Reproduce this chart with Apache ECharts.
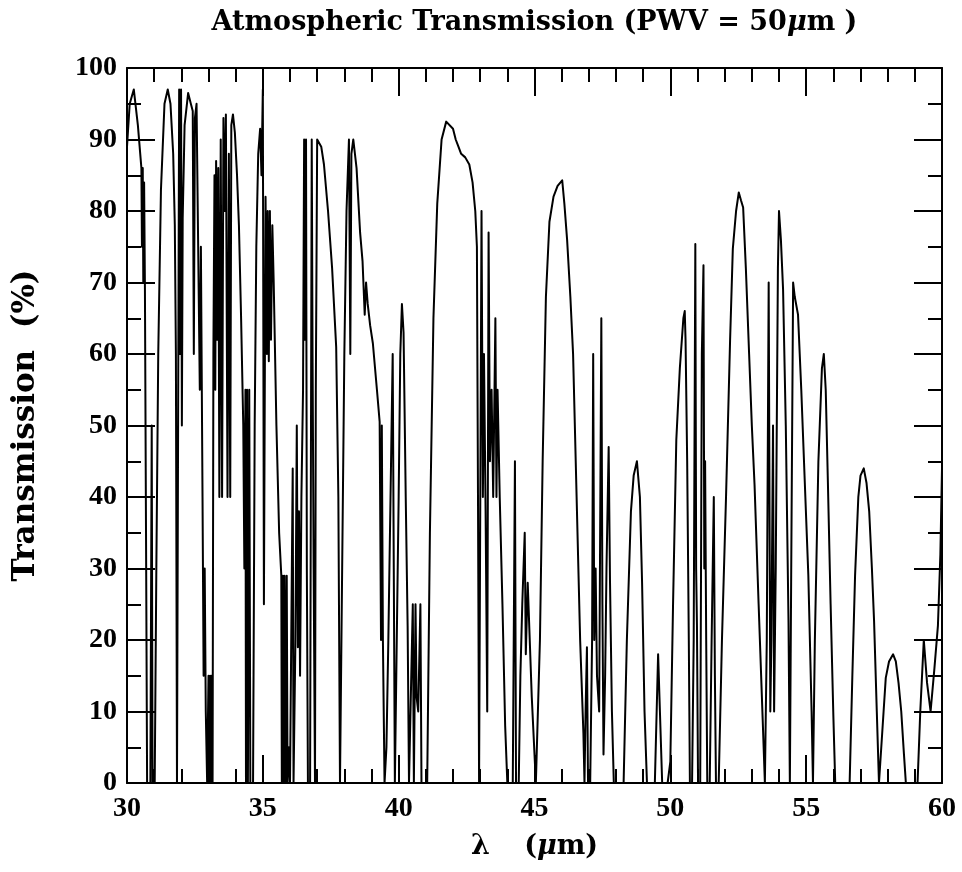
<!DOCTYPE html>
<html><head><meta charset="utf-8">
<script src="https://cdn.jsdelivr.net/npm/echarts@6/dist/echarts.min.js"></script>
<style>html,body{margin:0;padding:0;background:#fff}#c{width:962px;height:872px}</style>
</head><body><div id="c"></div>
<script>
// wavelength in micrometres
const wavelength = [
30.00,30.10,30.25,30.40,30.53,30.55,30.58,30.60,30.63,30.66,30.70,30.74,30.86,30.91,30.94,31.02,
31.08,31.15,31.25,31.38,31.50,31.60,31.70,31.76,31.80,31.84,31.88,31.92,31.95,31.99,32.02,32.05,
32.12,32.25,32.35,32.42,32.46,32.50,32.56,32.62,32.68,32.72,32.78,32.82,32.86,32.90,32.95,33.00,
33.03,33.06,33.09,33.12,33.15,33.18,33.22,33.25,33.28,33.32,33.36,33.40,33.45,33.50,33.55,33.60,
33.64,33.70,33.75,33.80,33.84,33.90,33.97,34.05,34.12,34.20,34.28,34.32,34.36,34.38,34.42,34.45,
34.50,34.54,34.64,34.70,34.76,34.83,34.90,34.95,35.00,35.04,35.10,35.15,35.18,35.22,35.26,35.30,
35.35,35.40,35.50,35.60,35.68,35.70,35.74,35.77,35.80,35.84,35.88,35.91,35.96,36.00,36.06,36.10,
36.13,36.20,36.25,36.29,36.33,36.37,36.42,36.48,36.52,36.55,36.59,36.62,36.66,36.74,36.80,36.83,
36.87,36.92,36.95,37.00,37.06,37.15,37.25,37.40,37.55,37.70,37.78,37.84,37.90,38.00,38.08,38.17,
38.22,38.26,38.33,38.45,38.58,38.67,38.75,38.80,38.86,38.95,39.05,39.20,39.30,39.35,39.38,39.42,
39.48,39.55,39.62,39.70,39.78,39.82,39.86,39.92,40.00,40.06,40.12,40.18,40.26,40.33,40.38,40.45,
40.52,40.56,40.62,40.66,40.72,40.80,40.84,41.05,41.15,41.28,41.42,41.58,41.75,41.82,42.00,42.10,
42.20,42.30,42.45,42.60,42.72,42.82,42.88,42.92,42.96,43.00,43.05,43.10,43.14,43.20,43.26,43.31,
43.36,43.42,43.48,43.56,43.60,43.64,43.72,43.82,43.92,44.00,44.20,44.28,44.32,44.42,44.48,44.55,
44.64,44.68,44.75,44.90,45.05,45.10,45.20,45.30,45.42,45.55,45.70,45.85,46.02,46.10,46.20,46.32,
46.42,46.55,46.68,46.80,46.84,46.88,46.93,46.97,47.05,47.12,47.16,47.20,47.25,47.30,47.38,47.46,
47.50,47.54,47.60,47.65,47.73,47.78,47.85,47.92,48.28,48.40,48.55,48.65,48.77,48.88,48.96,49.05,
49.14,49.43,49.55,49.60,49.70,49.90,50.00,50.10,50.22,50.35,50.48,50.53,50.56,50.62,50.68,50.72,
50.80,50.86,50.92,50.95,50.98,51.02,51.10,51.16,51.22,51.25,51.28,51.32,51.36,51.45,51.52,51.60,
51.64,51.68,51.78,51.90,52.05,52.20,52.30,52.42,52.52,52.60,52.68,52.78,52.90,53.00,53.10,53.25,
53.40,53.48,53.55,53.62,53.65,53.68,53.72,53.78,53.82,53.88,53.96,54.00,54.07,54.15,54.25,54.35,
54.40,54.45,54.52,54.58,54.70,54.82,54.95,55.08,55.20,55.25,55.32,55.45,55.58,55.65,55.72,55.80,
55.90,56.00,56.07,56.60,56.70,56.80,56.92,57.00,57.12,57.22,57.32,57.42,57.50,57.60,57.68,57.75,
57.85,57.93,58.05,58.20,58.30,58.40,58.50,58.60,58.67,59.10,59.20,59.33,59.45,59.58,59.72,59.85,
59.94,60.00
];
// transmission in percent
const transmission = [
89,95,97,92,86,75,86,70,84,69,35,0,0,50,0,0,
30,60,83,95,97,95,88,78,60,0,0,97,60,97,50,79,
92,96.5,95,94,60,93,95,75,55,75,40,15,30,10,0,15,
0,15,0,15,0,60,85,55,87,62,86,40,90,40,93,80,
93.5,40,88,40,92,93.5,91,85,78,65,50,30,55,0,55,0,
55,0,0,50,75,88,91.5,85,97,25,82,60,80,59,80,62,
78,70,50,35,29,0,29,0,29,0,29,0,5,0,0,44,
0,20,50,19,38,15,40,55,90,62,90,30,0,0,90,60,
30,0,55,90,90,89,86.5,80,72,61,40,0,0,60,80,90,
60,88,90,86,77,73,65.5,70,67,64,61.5,55,50.5,20,50,20,
0,5,20,40,60,30,0,0,40,60,67,63,40,22,0,0,
25,0,25,12,10,25,0,0,35,65,81,90,92.5,92.6,91.5,90,
89,88,87.5,86.5,84,80,75,40,0,0,80,40,60,38,10,77,
45,55,40,65,40,55,40,25,8,0,0,45,0,0,15,25,
35,18,28,12,0,0,20,45,68,78.5,82,83.5,84.3,81,76,68,
60,40,20,7,0,10,19,0,0,20,60,20,30,15,10,65,
25,4,15,30,47,28,10,0,0,20,38,43,45,40,28,10,
0,0,18,12,0,0,3,25,48,58,65,66,62,45,20,0,
0,20,75.4,30,22,0,0,60,72.4,30,45,20,0,0,20,40,
15,0,0,20,40,62,74.7,80,82.6,81.5,80.5,72,60,50,41.7,25,
8.8,0,20,70,40,10,20,50,10,30,72,80,76,69,50,22.5,
0,30,70,68,65.5,55,42,29,10,0,20,45,58,60,55,42,
25,9.5,0,0,15,29,40,43,44,42,38,30,22.6,10,0,0,
10,14.7,17,18,17,14,10,4,0,0,10,20,14,10,16,22,
32,44
];
const xTickValues = [30, 35, 40, 45, 50, 55, 60];
const yTickValues = [0, 10, 20, 30, 40, 50, 60, 70, 80, 90, 100];

const FONT = '"DejaVu Serif", "Liberation Serif", serif';
const TICKFONT = '"Liberation Serif", "DejaVu Serif", serif';
const seriesData = wavelength.map((w, i) => [w, transmission[i]]);

const lineCommon = { show: true, onZero: false, lineStyle: { color: '#000', width: 2 } };
function xAx(pos, showLabel) {
  return {
    type: 'value', position: pos, min: xTickValues[0], max: xTickValues[xTickValues.length - 1],
    interval: xTickValues[1] - xTickValues[0],
    axisLine: lineCommon,
    axisTick: { show: true, inside: true, length: 28, lineStyle: { color: '#000', width: 2 } },
    minorTick: { show: true, splitNumber: 5, length: 14, lineStyle: { color: '#000', width: 2 } },
    splitLine: { show: false },
    axisLabel: { show: showLabel, color: '#000', fontFamily: TICKFONT, fontWeight: 'bold', fontSize: 28, margin: 12 }
  };
}
function yAx(pos, showLabel) {
  return {
    type: 'value', position: pos, min: yTickValues[0], max: yTickValues[yTickValues.length - 1],
    interval: yTickValues[1] - yTickValues[0],
    axisLine: lineCommon,
    axisTick: { show: true, inside: true, length: 28, lineStyle: { color: '#000', width: 2 } },
    minorTick: { show: true, splitNumber: 2, length: 14, lineStyle: { color: '#000', width: 2 } },
    splitLine: { show: false },
    axisLabel: { show: showLabel, color: '#000', fontFamily: TICKFONT, fontWeight: 'bold', fontSize: 28, margin: 10 }
  };
}

const xBottom = Object.assign(xAx('bottom', true), {
  name: '{l|λ}{s|    }{n|(}{i|μ}{n|m)}', nameLocation: 'middle', nameGap: 50,
  nameTextStyle: { color: '#000', rich: {
    l: { fontFamily: FONT, fontWeight: 'bold', fontSize: 27, color: '#000' },
    s: { fontFamily: FONT, fontSize: 27 },
    n: { fontFamily: FONT, fontWeight: 'bold', fontSize: 27, color: '#000' },
    i: { fontFamily: FONT, fontWeight: 'bold', fontStyle: 'italic', fontSize: 27, color: '#000' }
  } }
});
const xTop = Object.assign(xAx('top', false), {
  name: '{n|Atmospheric Transmission (PWV = 50}{i|μ}{n|m )}', nameLocation: 'middle', nameGap: 32,
  nameTextStyle: { color: '#000', rich: {
    n: { fontFamily: FONT, fontWeight: 'bold', fontSize: 27, color: '#000' },
    i: { fontFamily: FONT, fontWeight: 'bold', fontStyle: 'italic', fontSize: 27, color: '#000' }
  } }
});
const yLeft = Object.assign(yAx('left', true), {
  name: 'Transmission  (%)', nameLocation: 'middle', nameGap: 86, nameRotate: 90,
  nameTextStyle: { color: '#000', fontFamily: FONT, fontWeight: 'bold', fontSize: 31 }
});
const yRight = yAx('right', false);

const chart = echarts.init(document.getElementById('c'), null, { renderer: 'canvas' });
chart.setOption({
  animation: false,
  backgroundColor: '#fff',
  grid: { left: 127, right: 20, top: 68, bottom: 89, containLabel: false },
  xAxis: [xBottom, xTop],
  yAxis: [yLeft, yRight],
  series: [{
    type: 'line', xAxisIndex: 0, yAxisIndex: 0, data: seriesData,
    showSymbol: false, symbol: 'none', smooth: false,
    lineStyle: { color: '#000', width: 2, join: 'round', cap: 'round' }, clip: true
  }]
});
</script>
</body></html>
